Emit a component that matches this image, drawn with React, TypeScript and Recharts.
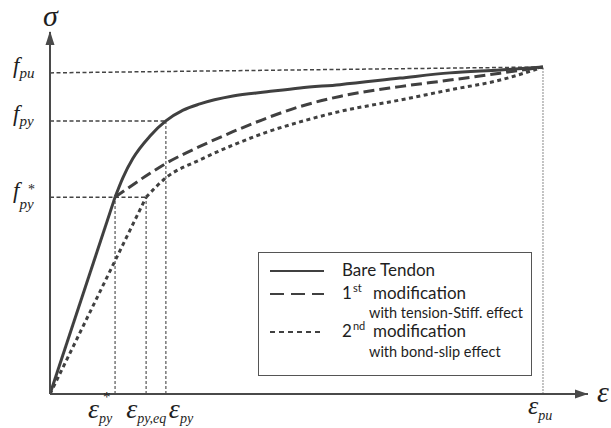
import React from 'react';
import { LineChart, Line, XAxis, YAxis, ReferenceLine, ReferenceDot, Legend } from 'recharts';

// strain (x, eps_pu = 10) and stress (y, f_pu = 100) in normalized units
const bareTendonElastic = [{ x: 0, y: 0 }, { x: 1.32, y: 60.2 }];
const bareTendonPlastic = [
  { x: 1.32, y: 60.2 }, { x: 1.48, y: 66.2 }, { x: 1.68, y: 72.0 }, { x: 2.03, y: 78.9 },
  { x: 2.35, y: 83.5 }, { x: 2.70, y: 86.8 }, { x: 3.04, y: 88.7 }, { x: 3.71, y: 91.1 },
  { x: 4.40, y: 92.4 }, { x: 5.07, y: 93.6 }, { x: 5.88, y: 94.6 }, { x: 7.10, y: 96.6 },
  { x: 8.11, y: 98.2 }, { x: 9.13, y: 99.1 }, { x: 10, y: 100 },
];
const tensionStiffCurve = [
  { x: 1.32, y: 60.2 }, { x: 2.03, y: 67.5 }, { x: 2.35, y: 70.5 }, { x: 3.04, y: 75.7 },
  { x: 3.71, y: 80.2 }, { x: 4.40, y: 84.4 }, { x: 5.07, y: 87.9 }, { x: 5.88, y: 91.0 },
  { x: 7.10, y: 94.0 }, { x: 8.11, y: 96.0 }, { x: 9.13, y: 98.1 }, { x: 10, y: 100 },
];
const bondSlipElastic = [{ x: 0, y: 0 }, { x: 1.95, y: 60.2 }];
const bondSlipCurve = [
  { x: 1.95, y: 60.2 }, { x: 2.35, y: 66.1 }, { x: 3.04, y: 71.6 }, { x: 3.71, y: 76.1 },
  { x: 4.40, y: 80.1 }, { x: 5.07, y: 83.2 }, { x: 5.88, y: 86.4 }, { x: 7.10, y: 89.9 },
  { x: 8.11, y: 93.0 }, { x: 9.13, y: 96.0 }, { x: 10, y: 100 },
];

const strainTicks = [1.32, 1.95, 2.35, 10];
const strainTickSubs = ['py', 'py,eq', 'py', 'pu'];
const strainTickSups = ['*', '', '', ''];
const stressTicks = [60.2, 83.5, 98.2];
const stressTickSubs = ['py', 'py', 'pu'];
const stressTickSups = ['*', '', ''];
const fpuEnd = 100;
const strainMax = 10.913;
const stressMax = 110.7;

const legendLabels = ['Bare Tendon', 'modification', 'with tension-Stiff. effect', 'modification', 'with bond-slip effect'];
const legendOrdinals = ['1', 'st', '2', 'nd'];

const INK = '#1e1e1e';
const LINE = '#404040';
const SERIF = '"Liberation Serif", "Times New Roman", serif';
const SANS = 'Lato, "Open Sans", sans-serif';

const xLabelOffsets = [-27, -20, 3, -15];

const XTick = (props: any) => {
  const { x, payload } = props;
  const i = strainTicks.indexOf(payload.value);
  if (i < 0) return null;
  const sx = x + xLabelOffsets[i];
  const last = i === 3;
  return (
    <g>
      <text x={sx} y={last ? 414 : 418} fontFamily={SERIF} fontStyle="italic" fill={INK}>
        <tspan fontSize={last ? 26 : 28}>ε</tspan>
        <tspan fontSize={14} dy={last ? 6 : 5}>{strainTickSubs[i]}</tspan>
      </text>
      {strainTickSups[i] ? (
        <text x={sx + 15} y={402} fontFamily={SERIF} fontSize={15} fill={INK}>{strainTickSups[i]}</text>
      ) : null}
    </g>
  );
};

const YTick = (props: any) => {
  const { y, payload } = props;
  const i = stressTicks.indexOf(payload.value);
  if (i < 0) return null;
  const star = stressTickSups[i];
  return (
    <g>
      <text x={13} y={y + (star ? 1 : 0)} fontFamily={SERIF} fontStyle="italic" fill={INK}>
        <tspan fontSize={23}>f</tspan>
        <tspan fontSize={15} dy={star ? 11 : 5}>{stressTickSubs[i]}</tspan>
      </text>
      {star ? (
        <text x={28} y={y - 3} fontFamily={SERIF} fontSize={14} fill={INK}>{star}</text>
      ) : null}
    </g>
  );
};

const XArrow = (p: any) => (
  <g>
    <path d={`M${p.cx} ${p.cy} L${p.cx - 13} ${p.cy - 4.5} L${p.cx - 13} ${p.cy + 4.5} Z`} fill="#4a4a4a" />
    <text x={p.cx + 9} y={p.cy + 8} fontFamily={SERIF} fontStyle="italic" fontSize={30} fill={INK}>ε</text>
  </g>
);

const YArrow = (p: any) => (
  <g>
    <path d={`M${p.cx} ${p.cy - 1} L${p.cx - 4.5} ${p.cy + 13} L${p.cx + 4.5} ${p.cy + 13} Z`} fill="#4a4a4a" />
    <text x={p.cx - 7} y={p.cy - 6} fontFamily={SERIF} fontStyle="italic" fontSize={30} fill={INK}>σ</text>
  </g>
);

const LegendBox = () => {
  const sample = (dash: string | undefined) => (
    <svg width={56} height={6} style={{ position: 'absolute', left: 11, top: -3 }}>
      <line x1={0} y1={3} x2={54} y2={3} stroke={LINE} strokeWidth={2} strokeDasharray={dash} />
    </svg>
  );
  const row = (top: number, children: React.ReactNode) => (
    <div style={{ position: 'absolute', left: 0, top, width: '100%', height: 0 }}>{children}</div>
  );
  const mainText: React.CSSProperties = { position: 'absolute', top: -9, fontFamily: SANS, fontSize: 17, color: INK, whiteSpace: 'nowrap', lineHeight: '16px' };
  const subText: React.CSSProperties = { position: 'absolute', top: -7, fontFamily: SANS, fontSize: 14.5, color: INK, whiteSpace: 'nowrap', lineHeight: '13px' };
  const supText: React.CSSProperties = { position: 'relative', top: -7, fontSize: 11, marginLeft: 1 };
  return (
    <div style={{ position: 'relative', width: 274, height: 124, border: '1px solid #555', boxSizing: 'border-box', background: '#fff' }}>
      {row(18, <>{sample(undefined)}<span style={{ ...mainText, left: 83 }}>{legendLabels[0]}</span></>)}
      {row(41, <>{sample('14 7')}<span style={{ ...mainText, left: 83 }}>{legendOrdinals[0]}<span style={supText}>{legendOrdinals[1]}</span></span><span style={{ ...mainText, left: 114 }}>{legendLabels[1]}</span></>)}
      {row(60, <span style={{ ...subText, left: 110 }}>{legendLabels[2]}</span>)}
      {row(79, <>{sample('5 4')}<span style={{ ...mainText, left: 83 }}>{legendOrdinals[2]}<span style={supText}>{legendOrdinals[3]}</span></span><span style={{ ...mainText, left: 114 }}>{legendLabels[3]}</span></>)}
      {row(99, <span style={{ ...subText, left: 110 }}>{legendLabels[4]}</span>)}
    </div>
  );
};

export default function App() {
  return (
    <div style={{ position: 'absolute', left: 0, top: 0, background: '#fff' }}>
      <LineChart width={611} height={428} margin={{ top: 32, right: 23, bottom: 0, left: 0 }}>
        <XAxis
          type="number" dataKey="x" domain={[0, strainMax]} ticks={strainTicks} allowDataOverflow
          axisLine={{ stroke: '#4a4a4a', strokeWidth: 2 }} tickLine={false} height={34} tick={<XTick />} interval={0}
        />
        <YAxis
          type="number" dataKey="y" domain={[0, stressMax]} ticks={stressTicks} allowDataOverflow
          axisLine={{ stroke: '#4a4a4a', strokeWidth: 2 }} tickLine={false} width={50} tick={<YTick />} interval={0}
        />
        <ReferenceLine segment={[{ x: 0, y: stressTicks[2] }, { x: strainTicks[3], y: fpuEnd }]} stroke="#444" strokeWidth={1.5} strokeDasharray="4 2.5" ifOverflow="visible" />
        <ReferenceLine segment={[{ x: 0, y: stressTicks[1] }, { x: strainTicks[2], y: stressTicks[1] }]} stroke="#444" strokeWidth={1.5} strokeDasharray="4 2.5" ifOverflow="visible" />
        <ReferenceLine segment={[{ x: 0, y: stressTicks[0] }, { x: strainTicks[1], y: stressTicks[0] }]} stroke="#444" strokeWidth={1.5} strokeDasharray="4 2.5" ifOverflow="visible" />
        <ReferenceLine segment={[{ x: strainTicks[0], y: 0 }, { x: strainTicks[0], y: stressTicks[0] }]} stroke="#777" strokeWidth={1.5} strokeDasharray="3 2" ifOverflow="visible" />
        <ReferenceLine segment={[{ x: strainTicks[1], y: 0 }, { x: strainTicks[1], y: stressTicks[0] }]} stroke="#777" strokeWidth={1.5} strokeDasharray="3 2" ifOverflow="visible" />
        <ReferenceLine segment={[{ x: strainTicks[2], y: 0 }, { x: strainTicks[2], y: stressTicks[1] }]} stroke="#777" strokeWidth={1.5} strokeDasharray="3 2" ifOverflow="visible" />
        <ReferenceLine segment={[{ x: strainTicks[3], y: 0 }, { x: strainTicks[3], y: fpuEnd }]} stroke="#888" strokeWidth={1} strokeDasharray="2 1" ifOverflow="visible" />
        <Line data={bondSlipElastic} dataKey="y" type="linear" stroke={LINE} strokeWidth={3} strokeDasharray="4 3.5" dot={false} isAnimationActive={false} legendType="none" />
        <Line data={bondSlipCurve} dataKey="y" type="monotone" stroke={LINE} strokeWidth={3} strokeDasharray="4 3.5" dot={false} isAnimationActive={false} legendType="none" />
        <Line data={tensionStiffCurve} dataKey="y" type="monotone" stroke={LINE} strokeWidth={3} strokeDasharray="11 5" dot={false} isAnimationActive={false} legendType="none" />
        <Line data={bareTendonElastic} dataKey="y" type="linear" stroke={LINE} strokeWidth={3} dot={false} isAnimationActive={false} legendType="none" />
        <Line data={bareTendonPlastic} dataKey="y" type="monotone" stroke={LINE} strokeWidth={3} dot={false} isAnimationActive={false} legendType="none" />
        <ReferenceDot x={strainMax} y={0} r={0} ifOverflow="visible" shape={(p: any) => <XArrow {...p} />} />
        <ReferenceDot x={0} y={stressMax} r={0} ifOverflow="visible" shape={(p: any) => <YArrow {...p} />} />
        <Legend
          layout="vertical" align="center" verticalAlign="middle"
          wrapperStyle={{ left: 258, top: 252, width: 274, height: 124 }}
          content={() => <LegendBox />}
        />
      </LineChart>
    </div>
  );
}
